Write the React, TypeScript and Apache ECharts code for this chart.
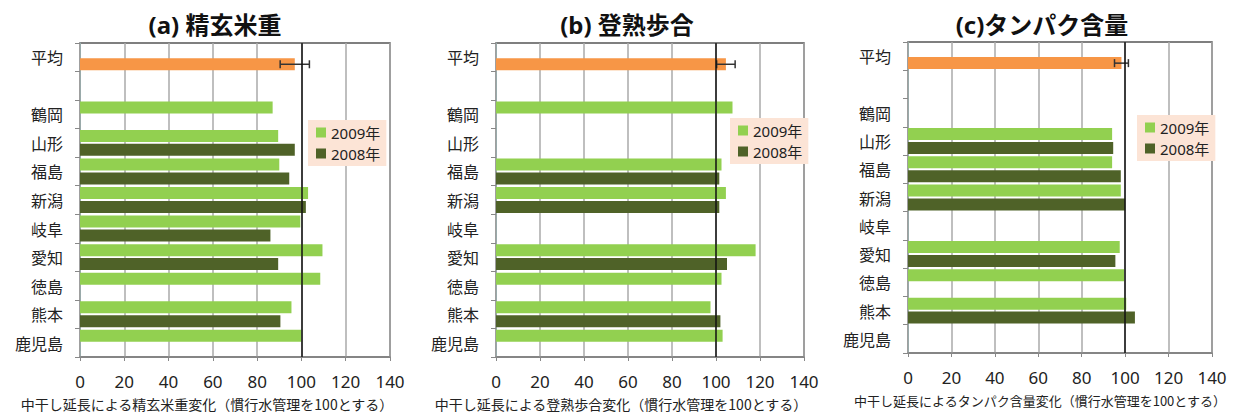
import React, { useEffect, useRef } from "react";
import * as echarts from "echarts";

const categories = ["平均", "", "鶴岡", "山形", "福島", "新潟", "岐阜", "愛知", "徳島", "熊本", "鹿児島"];
const xTicks = [0, 20, 40, 60, 80, 100, 120, 140];

// (a) 精玄米重
const a2009 = [87, 89.5, 90, 103, 99.5, 109.5, 108.5, 95.5, 100];
const a2008 = [null, 97, 94.5, 102, 86, 89.5, null, 90.5, null];
const aAvg = 97;
const aErr = 6.6;

// (b) 登熟歩合
const b2009 = [107.5, null, 102.5, 104.5, null, 118, 102.5, 97.5, 103];
const b2008 = [null, null, 101.5, 101.5, null, 105, null, 102, null];
const bAvg = 104.5;
const bErr = 4.2;

// (c) タンパク含量
const c2009 = [null, 94, 94, 98, null, 97.5, 99.5, 100.5, null];
const c2008 = [null, 94.5, 98, 100, null, 95.5, null, 104.5, null];
const cAvg = 98.3;
const cErr = 3.2;

const titles = ["(a) 精玄米重", "(b) 登熟歩合", "(c)タンパク含量"];
const axisNames = [
  "中干し延長による精玄米重変化（慣行水管理を100とする）",
  "中干し延長による登熟歩合変化（慣行水管理を100とする）",
  "中干し延長によるタンパク含量変化（慣行水管理を100とする）",
];

const C2009 = "#92d050";
const C2008 = "#4f6228";
const CAVG = "#f79646";
const FONT = '"Noto Sans", "Noto Sans CJK JP", sans-serif';
const JFONT = '"Noto Sans CJK JP", sans-serif';

const panels = [
  { s2009: a2009, s2008: a2008, avg: aAvg, err: aErr },
  { s2009: b2009, s2008: b2008, avg: bAvg, err: bErr },
  { s2009: c2009, s2008: c2008, avg: cAvg, err: cErr },
];

const grids = [
  { left: 80, top: 43, width: 310, height: 314 },
  { left: 496, top: 43, width: 308, height: 314 },
  { left: 908, top: 42, width: 304, height: 311 },
];
const titlePos = [
  [215, 24],
  [627, 24],
  [1042, 24],
];
const namePos = [
  [207, 404],
  [621, 404],
  [1040, 400],
];
const nameSize = [14, 14, 13];
const legendPos = [
  [308, 120],
  [730, 118],
  [1137, 115],
];

export default function App() {
  const ref = useRef<HTMLDivElement>(null);
  useEffect(() => {
    if (!ref.current) return;
    const chart = echarts.init(ref.current, undefined, { renderer: "svg" });
    const series: any[] = [];
    panels.forEach((p, i) => {
      series.push({
        name: "2009年",
        type: "bar",
        xAxisIndex: i,
        yAxisIndex: i,
        data: [null, null, ...p.s2009],
        itemStyle: { color: C2009 },
        barWidth: 12,
        barGap: "16%",
        markLine: {
          silent: true,
          symbol: "none",
          label: { show: false },
          lineStyle: { color: "#111", width: 1.5, type: "solid" },
          data: [{ xAxis: 100 }],
          z: 20,
        },
      });
      series.push({
        name: "2008年",
        type: "bar",
        xAxisIndex: i,
        yAxisIndex: i,
        data: [{ value: p.avg, itemStyle: { color: CAVG } }, null, ...p.s2008],
        itemStyle: { color: C2008 },
        barWidth: 12,
        barGap: "16%",
      });
      series.push({
        type: "custom",
        xAxisIndex: i,
        yAxisIndex: i,
        z: 15,
        data: [[p.avg - p.err, p.avg + p.err, 0]],
        encode: { x: [0, 1], y: 2 },
        renderItem: (params: any, api: any) => {
          const lo = api.coord([api.value(0), 0]);
          const hi = api.coord([api.value(1), 0]);
          const y = lo[1] + 7;
          const st = { stroke: "#333", lineWidth: 1.5 };
          return {
            type: "group",
            children: [
              { type: "line", shape: { x1: lo[0], y1: y, x2: hi[0], y2: y }, style: st },
              { type: "line", shape: { x1: lo[0], y1: y - 4, x2: lo[0], y2: y + 4 }, style: st },
              { type: "line", shape: { x1: hi[0], y1: y - 4, x2: hi[0], y2: y + 4 }, style: st },
            ],
          };
        },
      });
    });

    const graphic: any[] = [];
    titles.forEach((t, i) => {
      graphic.push({
        type: "text",
        x: titlePos[i][0],
        y: titlePos[i][1],
        style: {
          text: t,
          font: `bold 24px ${FONT}`,
          fill: "#111",
          textAlign: "center",
          textVerticalAlign: "middle",
          align: "center",
          verticalAlign: "middle",
        },
      });
      graphic.push({
        type: "text",
        x: namePos[i][0],
        y: namePos[i][1],
        style: {
          text: axisNames[i],
          font: `${nameSize[i]}px ${JFONT}`,
          fill: "#222",
          textAlign: "center",
          textVerticalAlign: "middle",
          align: "center",
          verticalAlign: "middle",
        },
      });
    });

    chart.setOption({
      animation: false,
      grid: grids.map((g) => ({
        ...g,
        show: true,
        borderColor: "#555",
        borderWidth: 1.5,
        backgroundColor: "#fff",
        containLabel: false,
      })),
      xAxis: grids.map((_, i) => ({
        type: "value",
        gridIndex: i,
        min: xTicks[0],
        max: xTicks[xTicks.length - 1],
        interval: 20,
        axisLine: { show: true, lineStyle: { color: "#888", width: 1.5 } },
        axisTick: { show: true, length: 4, lineStyle: { color: "#888" } },
        splitLine: { show: true, lineStyle: { color: "#aaa", width: 1.5 } },
        axisLabel: { fontSize: 17, color: "#222", margin: 16, fontFamily: FONT },
      })),
      yAxis: grids.map((_, i) => ({
        type: "category",
        gridIndex: i,
        inverse: true,
        data: categories,
        axisLine: { show: true, lineStyle: { color: "#9aa", width: 1 } },
        axisTick: { show: true, length: 5, inside: false, lineStyle: { color: "#888" } },
        axisLabel: { fontSize: 16, color: "#222", margin: 17, fontFamily: JFONT },
        splitLine: { show: false },
      })),
      legend: legendPos.map((pos) => ({
        left: pos[0],
        top: pos[1],
        orient: "vertical",
        data: ["2009年", "2008年"],
        selectedMode: false,
        backgroundColor: "#fce4d6",
        padding: [5, 6, 5, 8],
        itemWidth: 10,
        itemHeight: 10,
        itemGap: 6,
        icon: "rect",
        textStyle: { fontSize: 15, color: "#222", fontFamily: FONT },
      })),
      series,
      graphic,
    });
    return () => chart.dispose();
  }, []);
  return (
    <div
      ref={ref}
      style={{ position: "fixed", left: 0, top: 0, width: 1235, height: 414, background: "#fff" }}
    />
  );
}
